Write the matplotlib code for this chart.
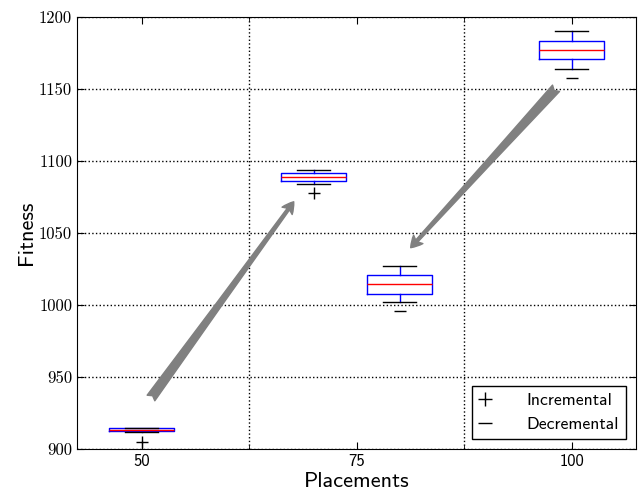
import matplotlib
matplotlib.use('Agg')
import matplotlib.pyplot as plt
from matplotlib.patches import FancyArrowPatch
from matplotlib.lines import Line2D

# Box statistics per run (placements, fitness)
positions = [50, 70, 80, 100]
medians = [913.2, 1089.1, 1014.4, 1177.1]
q1 = [912.4, 1086.3, 1007.8, 1170.6]
q3 = [914.3, 1091.7, 1020.8, 1183.5]
whis_lo = [911.8, 1084.2, 1001.9, 1164.1]
whis_hi = [914.8, 1094.0, 1027.1, 1190.3]
fliers = [[905.1], [1077.8], [995.6], [1157.8]]
kinds = ['inc', 'inc', 'dec', 'dec']

# Arrows: (start x, start y, end x, end y)
arrows = [(51.1, 935.4, 67.7, 1071.7),
          (98.2, 1150.5, 81.3, 1039.8)]

xticks = [50, 75, 100]
yticks = [900, 950, 1000, 1050, 1100, 1150, 1200]

sans = 'cmss10'
serif = 'cmr10'

fig = plt.figure(figsize=(6.38, 4.97), dpi=100)
ax = fig.add_axes([0.1207, 0.0966, 0.8762, 0.8692])

for kind, marker in [('inc', '+'), ('dec', '_')]:
    stats = []
    pos = []
    for i, k in enumerate(kinds):
        if k != kind:
            continue
        stats.append(dict(med=medians[i], q1=q1[i], q3=q3[i],
                          whislo=whis_lo[i], whishi=whis_hi[i],
                          fliers=fliers[i]))
        pos.append(positions[i])
    ax.bxp(stats, positions=pos, widths=7.5, manage_ticks=False,
           boxprops=dict(color='blue', linewidth=1),
           whiskerprops=dict(color='blue', linewidth=1),
           capprops=dict(color='black', linewidth=1),
           medianprops=dict(color='red', linewidth=1),
           flierprops=dict(marker=marker, markeredgecolor='black',
                           markersize=9, linestyle='none'))

for x0, y0, x1, y1 in arrows:
    ax.add_patch(FancyArrowPatch((x0, y0), (x1, y1),
                                 arrowstyle='fancy,head_length=0.45,head_width=0.5,tail_width=0.38',
                                 mutation_scale=18, color='gray',
                                 shrinkA=0, shrinkB=0, zorder=3))

ax.set_xlim(42.5, 107.5)
ax.set_ylim(900, 1200)
ax.set_xticks(xticks)
ax.set_xticklabels([str(t) for t in xticks], fontsize=12, family=sans)
ax.set_xticks([62.5, 87.5], minor=True)
ax.set_yticks(yticks)
ax.set_yticklabels([str(t) for t in yticks], fontsize=12, family=serif)
ax.tick_params(which='both', direction='in', top=True, right=True)
ax.tick_params(which='major', length=5)
ax.tick_params(which='minor', length=3)

ax.grid(True, which='major', axis='y', linestyle=':', color='black', linewidth=1)
ax.grid(True, which='minor', axis='x', linestyle=':', color='black', linewidth=1)
ax.set_axisbelow(True)

ax.set_xlabel('Placements', fontsize=16, family=sans, labelpad=2)
ax.set_ylabel('Fitness', fontsize=16, family=sans, labelpad=2)

handles = [Line2D([], [], marker='+', color='black', linestyle='none', markersize=10),
           Line2D([], [], marker='_', color='black', linestyle='none', markersize=10)]
leg = ax.legend(handles, ['Incremental', 'Decremental'],
                loc='lower right', numpoints=1, fancybox=False,
                prop={'family': sans, 'size': 12.7},
                framealpha=1, edgecolor='black', handlelength=0.7,
                handletextpad=2.0, borderaxespad=0.55)
leg.get_frame().set_linewidth(1)

fig.savefig('out.png', dpi=100)
